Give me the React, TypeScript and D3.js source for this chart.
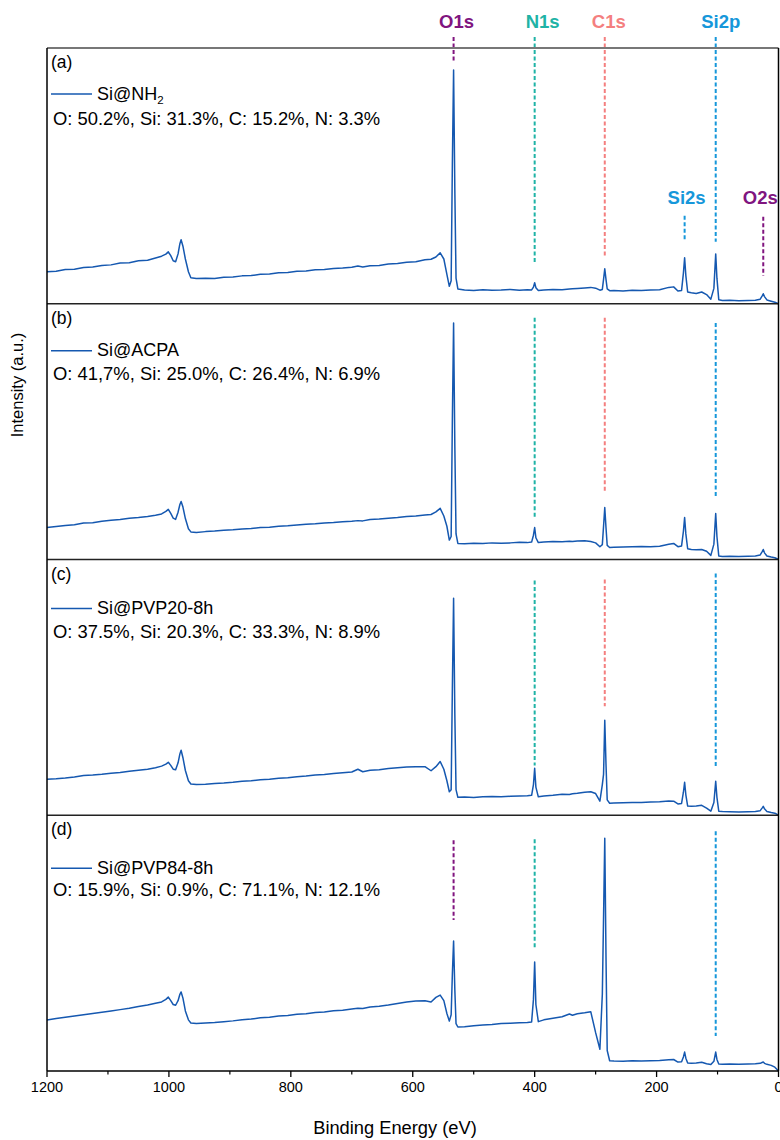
import React from "react";
import * as d3 from "d3";

// Binding-energy grid shared by all four survey spectra (eV, descending)
const ENERGY = [
  1200, 1185, 1170, 1155, 1140, 1125, 1110, 1095, 1080, 1065,
  1050, 1035, 1022, 1012, 1005, 1001, 997, 993, 989, 985,
  982, 980, 977, 973, 968, 964, 955, 940, 925, 910,
  895, 880, 865, 850, 835, 820, 805, 790, 775, 760,
  745, 730, 715, 700, 690, 682, 670, 655, 640, 625,
  610, 595, 580, 570, 562, 555, 549, 544, 540, 537,
  535, 533, 531, 529, 526, 515, 500, 485, 470, 455,
  440, 425, 412, 405, 402, 400, 398, 394, 385, 370,
  355, 343, 338, 330, 318, 308, 300, 293, 289, 287,
  285, 283, 281, 277, 270, 255, 240, 225, 210, 195,
  180, 172, 165, 159, 156, 154, 152, 149, 143, 135,
  126, 118, 111, 106, 103, 101, 98, 92, 80, 65,
  50, 38, 30, 27, 25, 23, 19, 12, 6, 0,
];

// Normalised intensity of each panel (0 = panel floor, 100 = panel ceiling)
const INTENSITY_A = [
  12.5, 12.7, 13.4, 13.5, 14.2, 14.4, 15.0, 15.2, 15.9, 16.0,
  16.8, 17.0, 17.9, 18.6, 19.4, 20.3, 18.8, 16.8, 16.4, 19.5,
  23.5, 25.0, 22.5, 17.5, 12.5, 10.2, 9.9, 10.0, 9.9, 10.4,
  10.5, 10.9, 11.0, 11.5, 11.6, 12.1, 12.2, 12.7, 12.8, 13.3,
  13.4, 13.8, 14.0, 14.3, 14.8, 14.4, 14.9, 15.0, 15.5, 15.7,
  16.2, 16.4, 17.2, 17.4, 18.3, 19.9, 17.5, 11.5, 6.8, 9.0,
  55, 91.4, 45, 10, 5.8, 5.4, 5.2, 5.5, 5.3, 5.4,
  5.6, 5.3, 5.5, 5.4, 6.5, 8.2, 6.3, 5.2, 5.4, 5.6,
  5.5, 5.8, 5.9, 6.0, 6.2, 6.4, 6.1, 5.3, 5.6, 9.5,
  13.7, 9.5, 5.8, 5.1, 5.2, 5.0, 5.3, 5.2, 5.4, 5.5,
  6.4, 6.6, 5.0, 5.2, 12, 18, 11, 4.6, 4.3, 4.0,
  4.6, 3.6, 1.8, 6, 19.5, 10, 1.6, 1.3, 1.4, 1.2,
  1.3, 1.4, 1.8, 3.0, 3.9, 2.8, 1.5, 1.0, 0.6, 0,
];

const INTENSITY_B = [
  12.5, 12.9, 13.3, 13.6, 14.3, 14.4, 15.0, 15.3, 15.6, 16.1,
  16.4, 16.8, 17.3, 17.8, 18.8, 19.6, 18.0, 16.2, 15.7, 18.5,
  21.5, 22.7, 20.5, 16.0, 12.0, 10.8, 10.6, 10.9, 11.1, 11.4,
  11.6, 11.9, 12.1, 12.5, 12.6, 13.0, 13.2, 13.5, 13.8, 14.0,
  14.3, 14.5, 14.8, 15.0, 15.2, 15.1, 15.6, 15.8, 16.1, 16.4,
  16.8, 17.0, 17.4, 17.6, 18.6, 20.0, 17.0, 13.0, 7.6, 9.0,
  55, 92.5, 45, 10, 6.3, 6.2, 6.4, 6.3, 6.5, 6.4,
  6.5, 6.7, 6.6, 6.8, 9.5, 12.5, 8.5, 6.6, 6.8, 7.0,
  6.9, 7.1, 7.0, 7.2, 7.3, 7.0, 6.5, 5.0, 5.8, 13,
  20.3, 12.5, 5.5, 4.7, 4.8, 4.9, 5.0, 5.1, 5.0, 5.2,
  6.0, 6.3, 5.0, 5.3, 11, 16.4, 10, 4.2, 3.9, 3.8,
  3.9, 3.2, 1.6, 6, 18, 9, 1.4, 1.2, 1.3, 1.2,
  1.3, 1.4, 1.8, 3.0, 3.9, 2.6, 1.4, 1.0, 0.7, 0,
];

const INTENSITY_C = [
  14.1, 14.3, 14.6, 15.0, 15.5, 15.7, 16.0, 16.4, 16.7, 17.2,
  17.6, 18.0, 18.6, 19.2, 20.0, 20.7, 19.5, 18.0, 17.8, 20.5,
  24.0, 25.4, 22.5, 17.5, 13.5, 12.2, 12.0, 12.1, 12.4, 12.6,
  12.9, 13.3, 13.5, 13.9, 14.1, 14.5, 14.7, 15.1, 15.3, 15.7,
  15.9, 16.3, 16.6, 16.9, 18.0, 17.0, 17.6, 17.8, 18.3, 18.6,
  18.9, 19.0, 19.0, 17.4, 19.0, 21.0, 18.0, 13.5, 9.2, 10,
  50, 84.8, 40, 10, 7.0, 7.1, 6.9, 7.2, 7.3, 7.2,
  7.4, 7.5, 7.6, 7.8, 12, 18.4, 11, 7.2, 7.5, 7.8,
  8.2, 8.1, 8.4, 8.6, 9.0, 9.2, 8.5, 5.5, 12, 16,
  37.1, 20, 6.0, 4.7, 4.8, 4.9, 5.0, 5.0, 5.2, 5.3,
  5.6, 5.5, 4.4, 4.6, 9, 12.9, 8, 3.6, 3.5, 3.6,
  3.9, 2.8, 1.6, 5, 13.3, 7, 1.6, 1.5, 1.4, 1.3,
  1.4, 1.5, 1.8, 2.8, 3.5, 2.5, 1.5, 1.1, 0.8, 0,
];

const INTENSITY_D = [
  19.9, 20.5, 21.0, 21.5, 22.0, 22.5, 23.0, 23.5, 24.0, 24.5,
  25.2, 25.8, 26.5, 27.0, 28.0, 28.9, 27.5, 26.0, 25.7, 27.5,
  30.0, 30.9, 28.5, 23.5, 20.0, 18.8, 18.6, 18.8, 19.0, 19.3,
  19.6, 20.0, 20.3, 20.8, 21.0, 21.5, 21.7, 22.2, 22.4, 22.9,
  23.1, 23.6, 23.8, 24.2, 24.5, 24.4, 25.0, 25.3, 25.8, 26.4,
  27.0, 27.4, 27.5, 27.0, 28.8, 29.7, 27.5, 22.5, 19.5, 22,
  38, 50.8, 32, 18.5, 17.2, 17.3, 17.7, 18.0, 18.2, 18.6,
  18.7, 18.9, 19.0, 19.2, 28, 42.6, 26, 19.3, 20.0, 20.6,
  21.2, 22.3, 21.8, 22.4, 22.8, 23.2, 15, 8.5, 30, 60,
  91, 45, 8, 4.0, 3.9, 3.8, 4.0, 3.9, 4.0, 4.1,
  4.4, 4.5, 3.5, 3.6, 5.5, 7.4, 5, 3.1, 3.0, 3.1,
  3.4, 2.8, 2.5, 3.8, 7.4, 4.5, 2.7, 2.6, 2.7, 2.6,
  2.7, 2.8, 3.0, 3.3, 3.5, 3.0, 2.6, 2.2, 1.5, 0,
];

const PANEL_TAGS = ["(a)", "(b)", "(c)", "(d)"];
const SAMPLE_NAMES = ["Si@NH", "Si@ACPA", "Si@PVP20-8h", "Si@PVP84-8h"];
const SAMPLE_SUBSCRIPTS = ["2", "", "", ""];
const COMPOSITIONS = [
  "O: 50.2%, Si: 31.3%, C: 15.2%, N: 3.3%",
  "O: 41,7%, Si: 25.0%, C: 26.4%, N: 6.9%",
  "O: 37.5%, Si: 20.3%, C: 33.3%, N: 8.9%",
  "O: 15.9%, Si: 0.9%, C: 71.1%, N: 12.1%",
];

// Core-level reference energies (eV)
const PEAK_NAMES = ["O1s", "N1s", "C1s", "Si2p", "Si2s", "O2s"];
const PEAK_ENERGY = [533, 400, 285, 103, 154, 25];

// Dashed guides per panel: [peak name, upper end, lower end] in panel intensity units
const GUIDES_A: [string, number, number][] = [
  ["O1s", 104.3, 94.9],
  ["N1s", 104.3, 15.6],
  ["C1s", 104.3, 18.4],
  ["Si2p", 104.3, 24.2],
  ["Si2s", 34.4, 25],
  ["O2s", 34, 10.9],
];
const GUIDES_B: [string, number, number][] = [
  ["N1s", 94.5, 15.7],
  ["C1s", 94.5, 25.9],
  ["Si2p", 92.5, 24.7],
];
const GUIDES_C: [string, number, number][] = [
  ["N1s", 91.8, 19.5],
  ["C1s", 92.2, 42.6],
  ["Si2p", 94.5, 19.1],
];
const GUIDES_D: [string, number, number][] = [
  ["O1s", 90.2, 59],
  ["N1s", 90.6, 48],
  ["Si2p", 93.75, 13.7],
];

const X_MAJOR = [1200, 1000, 800, 600, 400, 200, 0];
const X_MINOR = [1100, 900, 700, 500, 300, 100];

const PEAK_COLOR: Record<string, string> = {
  O1s: "#80157f",
  O2s: "#80157f",
  N1s: "#1fb3a6",
  C1s: "#f47f7f",
  Si2p: "#1697da",
  Si2s: "#1697da",
};
// horizontal nudge of each peak name relative to its guide
const LABEL_DX: Record<string, number> = { O1s: 3, N1s: 8, C1s: 4, Si2p: 5, Si2s: 2, O2s: -3 };

const LINE_COLOR = "#1558b0";
const FONT = "'Liberation Sans', Arial, Helvetica, sans-serif";

export default function App() {
  const W = 780;
  const H = 1140;
  const left = 47;
  const right = 778.5;
  const top = 48;
  const bottom = 1071;
  const panelH = (bottom - top) / 4;

  const x = d3.scaleLinear().domain([1200, 0]).range([left, right]);

  const series = [INTENSITY_A, INTENSITY_B, INTENSITY_C, INTENSITY_D];
  const guides = [GUIDES_A, GUIDES_B, GUIDES_C, GUIDES_D];
  const legendOffsets = [
    [46, 77],
    [47, 76],
    [49, 78],
    [53, 81],
  ];

  return (
    <svg
      width={W}
      height={H}
      viewBox={`0 0 ${W} ${H}`}
      style={{ position: "absolute", left: 0, top: 0, background: "#fff" }}
      fontFamily={FONT}
    >
      <rect x={0} y={0} width={W} height={H} fill="#fff" />

      {series.map((vals, p) => {
        const pTop = top + p * panelH;
        const pBot = pTop + panelH;
        const y = d3.scaleLinear().domain([0, 100]).range([pBot, pTop]);
        const line = d3
          .line<number>()
          .x((_, i) => x(ENERGY[i]))
          .y((d) => y(d));
        const [lgY, compY] = legendOffsets[p];
        return (
          <g key={p}>
            {guides[p].map(([name, y0, y1]) => {
              const e = PEAK_ENERGY[PEAK_NAMES.indexOf(name)];
              return (
                <line
                  key={name}
                  x1={x(e)}
                  x2={x(e)}
                  y1={y(y0)}
                  y2={y(y1)}
                  stroke={PEAK_COLOR[name]}
                  strokeWidth={2}
                  strokeDasharray="4 2.5"
                />
              );
            })}
            <path d={line(vals) || ""} fill="none" stroke={LINE_COLOR} strokeWidth={1.5} strokeLinejoin="round" />
            <text x={51} y={pTop + 20} fontSize={17.5} fill="#000">
              {PANEL_TAGS[p]}
            </text>
            <line x1={51} x2={92} y1={pTop + lgY} y2={pTop + lgY} stroke={LINE_COLOR} strokeWidth={1.4} />
            <text x={97} y={pTop + lgY + 5.5} fontSize={18} fill="#000">
              {SAMPLE_NAMES[p]}
              {SAMPLE_SUBSCRIPTS[p] && (
                <tspan fontSize={11.5} dy={4}>
                  {SAMPLE_SUBSCRIPTS[p]}
                </tspan>
              )}
            </text>
            <text x={53} y={pTop + compY} fontSize={18.4} fill="#000">
              {COMPOSITIONS[p]}
            </text>
            {p < 3 && <line x1={left} x2={right} y1={pBot} y2={pBot} stroke="#222" strokeWidth={1.6} />}
          </g>
        );
      })}

      {/* peak names */}
      {["O1s", "N1s", "C1s", "Si2p"].map((n) => (
        <text
          key={n}
          x={x(PEAK_ENERGY[PEAK_NAMES.indexOf(n)]) + LABEL_DX[n]}
          y={28}
          textAnchor="middle"
          fontSize={18.5}
          fontWeight="bold"
          fill={PEAK_COLOR[n]}
        >
          {n}
        </text>
      ))}
      {["Si2s", "O2s"].map((n) => (
        <text
          key={n}
          x={x(PEAK_ENERGY[PEAK_NAMES.indexOf(n)]) + LABEL_DX[n]}
          y={204}
          textAnchor="middle"
          fontSize={18.5}
          fontWeight="bold"
          fill={PEAK_COLOR[n]}
        >
          {n}
        </text>
      ))}

      {/* frame */}
      <line x1={left} x2={right} y1={top} y2={top} stroke="#777" strokeWidth={1.8} />
      <line x1={left} x2={left} y1={top} y2={bottom} stroke="#000" strokeWidth={1.5} />
      <line x1={right} x2={right} y1={top} y2={bottom} stroke="#000" strokeWidth={1.5} />
      <line x1={left} x2={right} y1={bottom} y2={bottom} stroke="#000" strokeWidth={1.5} />

      {/* x axis */}
      {X_MAJOR.map((t) => (
        <g key={t}>
          <line x1={x(t)} x2={x(t)} y1={bottom} y2={bottom + 6} stroke="#000" strokeWidth={1.3} />
          <text x={x(t)} y={1092} textAnchor="middle" fontSize={14.5} fill="#000">
            {t}
          </text>
        </g>
      ))}
      {X_MINOR.map((t) => (
        <line key={t} x1={x(t)} x2={x(t)} y1={bottom} y2={bottom + 3.5} stroke="#000" strokeWidth={1.2} />
      ))}
      <text x={395} y={1134} textAnchor="middle" fontSize={18.3} fill="#000">
        Binding Energy (eV)
      </text>
      <text
        transform="translate(23,385) rotate(-90)"
        textAnchor="middle"
        fontSize={16.5}
        fill="#000"
      >
        Intensity (a.u.)
      </text>
    </svg>
  );
}
